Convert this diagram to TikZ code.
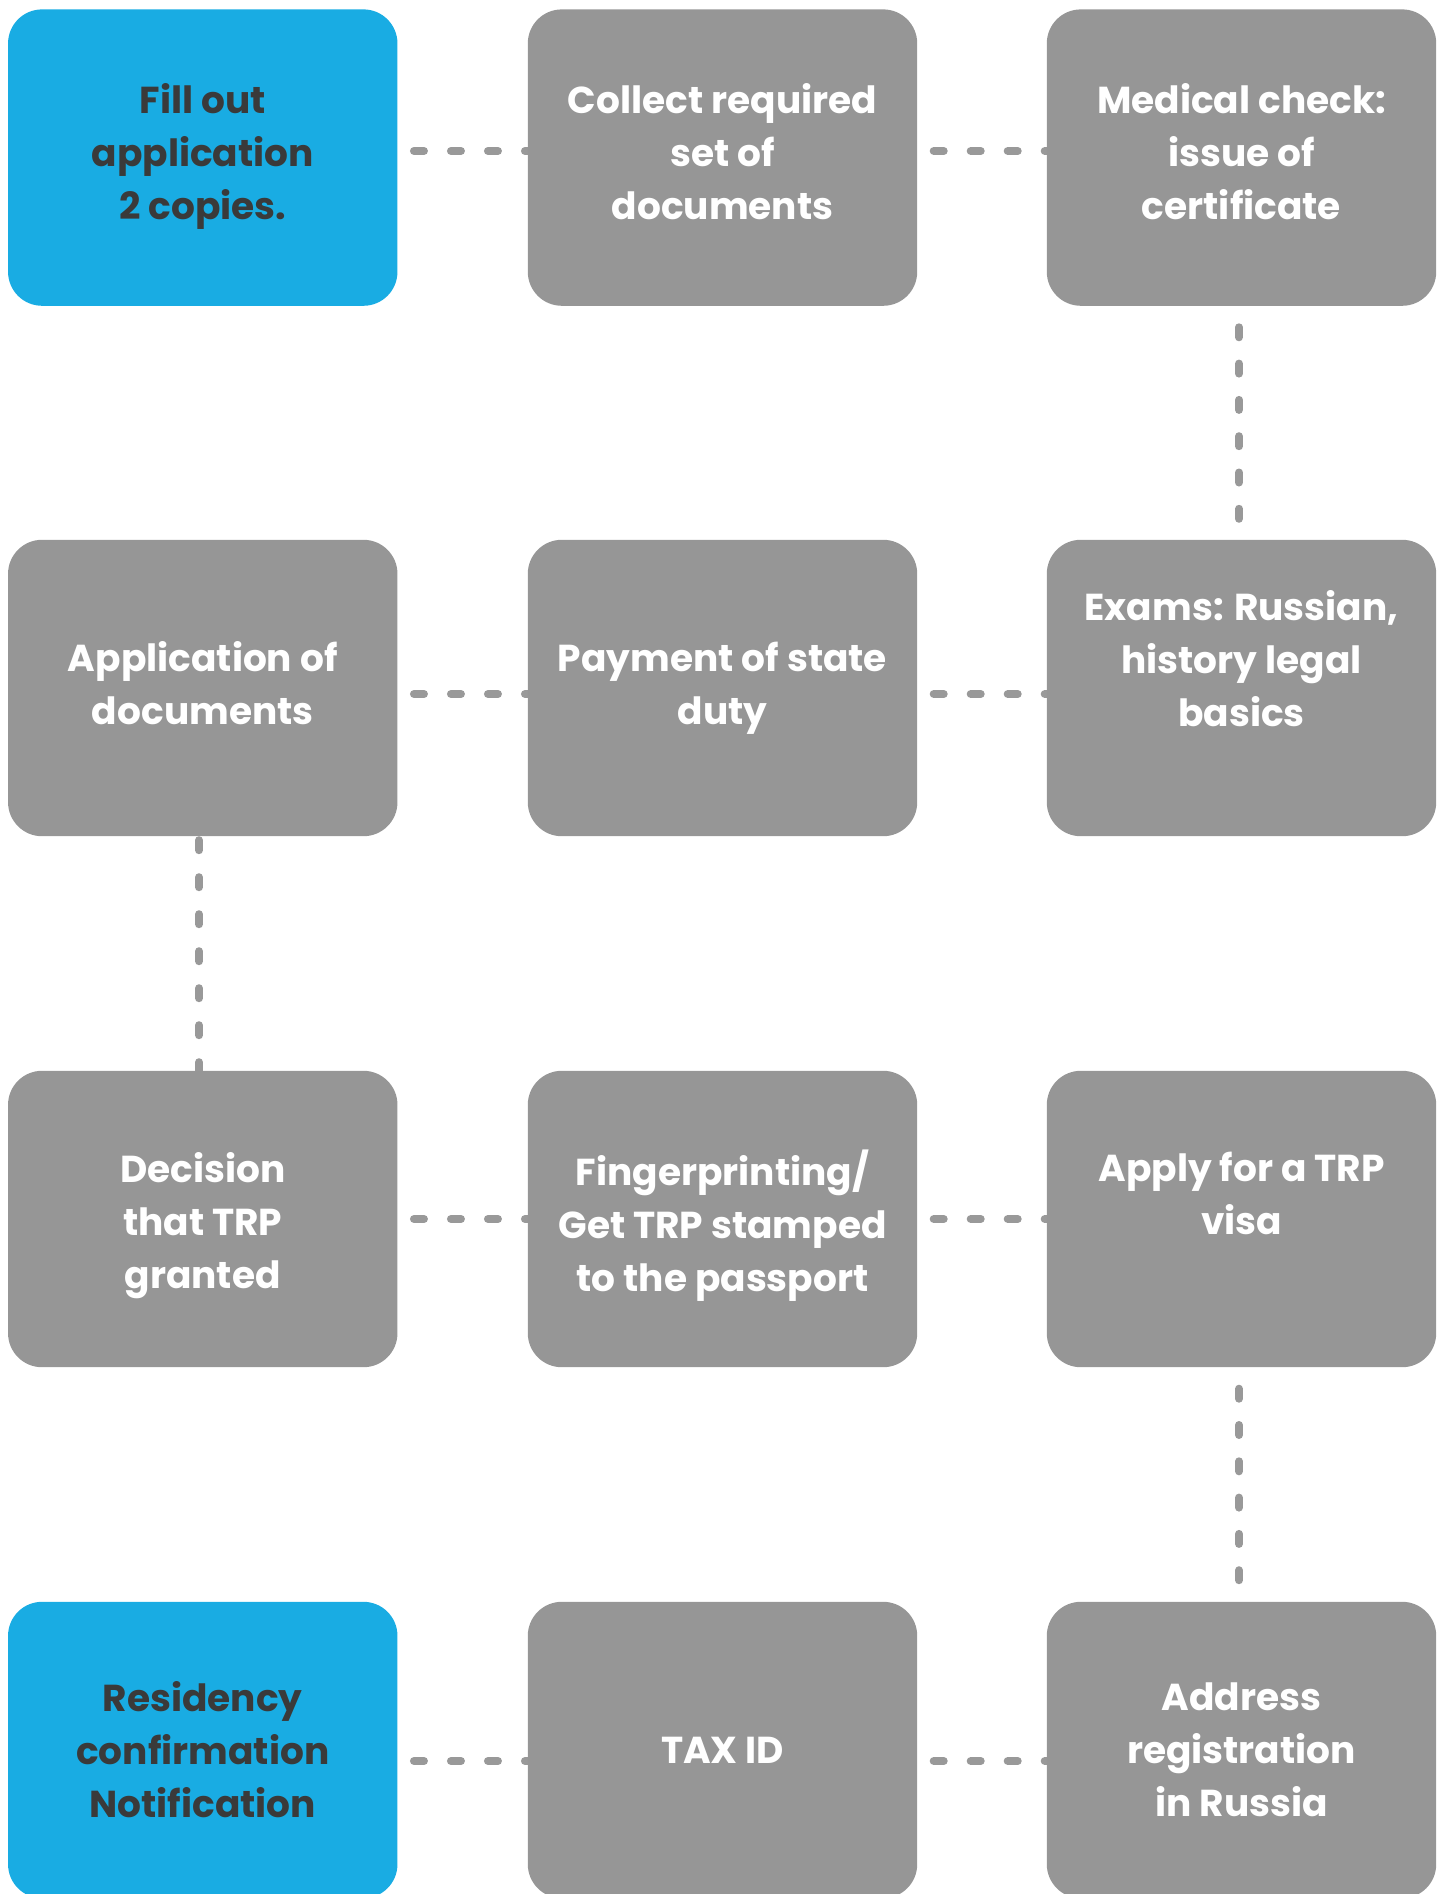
\documentclass[tikz,border=0pt]{standalone}
\usepackage{fontspec}
\setmainfont{Poppins}
\definecolor{boxblue}{HTML}{19ACE3}
\definecolor{boxgray}{HTML}{969696}
\definecolor{dashgray}{HTML}{999999}
\definecolor{darktext}{HTML}{3A3A3A}
\newcommand{\tstrut}{\rule[-12.5pt]{0pt}{40.5pt}}
\begin{document}
\begin{tikzpicture}[x=1pt,y=-1pt,
  box/.style={rectangle, rounded corners=34pt, minimum width=389pt, minimum height=296pt, inner sep=0pt, draw=none},
  txt/.style={align=center, inner sep=0pt, font=\fontsize{37.5}{53}\selectfont\bfseries},
  wtxt/.style={txt, text=white},
  dtxt/.style={txt, text=darktext},
  conn/.style={draw=dashgray, line width=8pt, line cap=round, dash pattern=on 10pt off 27pt},
  connv/.style={conn, dash pattern=on 10pt off 26.3pt}
]
\useasboundingbox (0,0) rectangle (1448,1894);
\clip (0,0) rectangle (1448,1894);
% box positions
\coordinate (p11) at (202.75,157.6);
\coordinate (p12) at (722.5,157.6);
\coordinate (p13) at (1241.5,157.6);
\coordinate (p21) at (202.75,688);
\coordinate (p22) at (722.5,688);
\coordinate (p23) at (1241.5,688);
\coordinate (p31) at (202.75,1219);
\coordinate (p32) at (722.5,1219);
\coordinate (p33) at (1241.5,1219);
\coordinate (p41) at (202.75,1750);
\coordinate (p42) at (722.5,1750);
\coordinate (p43) at (1241.5,1750);

% box nodes (shapes only; filled after the connectors so they sit on top)
\path node[box] (b11) at (p11) {}
      node[box] (b12) at (p12) {}
      node[box] (b13) at (p13) {}
      node[box] (b21) at (p21) {}
      node[box] (b22) at (p22) {}
      node[box] (b23) at (p23) {}
      node[box] (b31) at (p31) {}
      node[box] (b32) at (p32) {}
      node[box] (b33) at (p33) {}
      node[box] (b41) at (p41) {}
      node[box] (b42) at (p42) {}
      node[box] (b43) at (p43) {};

% connectors
\draw[conn] ([shift={(16.5,-6.6)}]b11.east) -- ([shift={(12,-6.6)}]b12.west);
\draw[conn] ([shift={(16.5,-6.6)}]b12.east) -- ([shift={(12,-6.6)}]b13.west);
\draw[connv] ([shift={(-2.5,21.5)}]b13.south) -- ([shift={(-2.5,0)}]b23.north);
\draw[conn] ([shift={(16.5,6)}]b21.east) -- ([shift={(12,6)}]b22.west);
\draw[conn] ([shift={(16.5,6)}]b22.east) -- ([shift={(12,6)}]b23.west);
\draw[conn] ([shift={(-3.75,4)}]b21.south) -- ([shift={(-3.75,4)}]b31.north);
\draw[conn] ([shift={(16.5,0)}]b31.east) -- ([shift={(12,0)}]b32.west);
\draw[conn] ([shift={(16.5,0)}]b32.east) -- ([shift={(12,0)}]b33.west);
\draw[connv] ([shift={(-2.5,21.5)}]b33.south) -- ([shift={(-2.5,0)}]b43.north);
\draw[conn] ([shift={(16.5,11)}]b41.east) -- ([shift={(12,11)}]b42.west);
\draw[conn] ([shift={(16.5,11)}]b42.east) -- ([shift={(12,11)}]b43.west);

% filled boxes
\fill[boxblue, rounded corners=34pt] (b11.south west) rectangle (b11.north east);
\foreach \b in {b12,b13,b21,b22,b23,b31,b32,b33,b42,b43}
  \fill[boxgray, rounded corners=34pt] (\b.south west) rectangle (\b.north east);
\fill[boxblue, rounded corners=34pt] (b41.south west) rectangle (b41.north east);

% texts
\node[dtxt] (t11) at ([shift={(0,0.5)}]b11.center) {\tstrut Fill out\\\tstrut application\\\tstrut 2 copies.};
\node[wtxt] (t12) at ([shift={(0,0.5)}]b12.center) {\tstrut Collect required\\\tstrut set of\\\tstrut documents};
\node[wtxt] (t13) at ([shift={(0,0.5)}]b13.center) {\tstrut Medical check:\\\tstrut issue of\\\tstrut certificate};
\node[wtxt] (t21) at ([shift={(0,1.5)}]b21.center) {\tstrut Application of\\\tstrut documents};
\node[wtxt] (t22) at ([shift={(0,1.5)}]b22.center) {\tstrut Payment of state\\\tstrut duty};
\node[wtxt] (t23) at ([shift={(0,-23)}]b23.center) {\tstrut Exams: Russian,\\\tstrut history legal\\\tstrut basics};
\node[wtxt] (t31) at ([shift={(0,8)}]b31.center) {\tstrut Decision\\\tstrut that TRP\\\tstrut granted};
\node[wtxt] (t32) at ([shift={(0,8)}]b32.center) {\tstrut Fingerprinting/\\\tstrut Get TRP stamped\\\tstrut to the passport};
\node[wtxt] (t33) at ([shift={(0,-19)}]b33.center) {\tstrut Apply for a TRP\\\tstrut visa};
\node[dtxt] (t41) at ([shift={(0,6)}]b41.center) {\tstrut Residency\\\tstrut confirmation\\\tstrut Notification};
\node[wtxt] (t42) at ([shift={(0,6)}]b42.center) {\tstrut TAX ID};
\node[wtxt] (t43) at ([shift={(0,6)}]b43.center) {\tstrut Address\\\tstrut registration\\\tstrut in Russia};
\end{tikzpicture}
\end{document}
